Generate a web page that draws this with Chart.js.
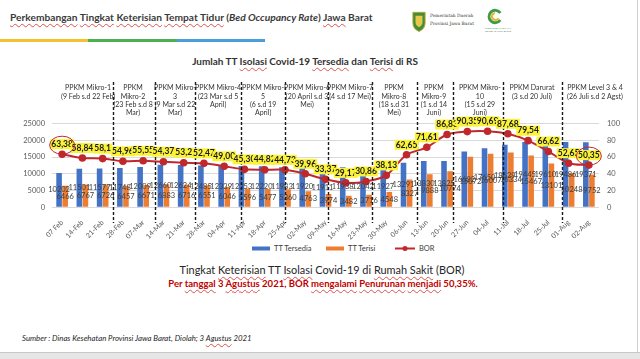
<!DOCTYPE html>
<html lang="id">
<head>
<meta charset="UTF-8">
<title>BOR Jawa Barat</title>
<script src="https://cdn.jsdelivr.net/npm/chart.js@4.4.0/dist/chart.umd.min.js"></script>
<style>
body { margin:0; width:640px; height:359px; position:relative; background:#fff; overflow:hidden;
  font-family: Lato, "Open Sans", sans-serif; color:#404040; }
.t { position:absolute; white-space:nowrap; transform:translateY(-50%); line-height:1.1; }
.c { transform:translate(-50%,-50%); }
.sq { text-decoration: underline wavy #d9534f; text-decoration-thickness: 0.5px; text-underline-offset: 2px; }
#judul { left:10px; top:18px; font-size:11px; font-weight:bold; color:#3a3a3a; }
.strip { position:absolute; top:39px; height:3px; }
#jdlChart { left:305px; top:61px; font-size:9.5px; font-weight:bold; color:#333; }
#bor1 { left:322px; top:270px; font-size:12px; color:#262626; }
#bor2 { left:323px; top:284px; font-size:12px; font-weight:bold; color:#c00000; }
#sumber { left:22px; top:338px; font-size:7px; font-style:italic; color:#262626; }
#grafik { position:absolute; left:0; top:70px; }
.leg { position:absolute; top:248px; font-size:7.5px; color:#404040; transform:translateY(-50%); white-space:nowrap; }
.sw { display:inline-block; width:18px; height:4px; vertical-align:middle; margin-right:4px; }
#bawah { position:absolute; left:0; top:352px; width:640px; height:7px; background:#e6e6e6; border-top:1px solid #c8c8c8; }
#kanan { position:absolute; left:637px; top:0; width:1px; height:352px; background:#d0d0d0; }
</style>
</head>
<body>

<div id="judul" class="t"><span class="sq">Perkembangan</span> <span class="sq">Tingkat</span> <span class="sq">Keterisian</span> <span class="sq">Tempat Tidur</span> (<i>Bed Occupancy Rate</i>) <span class="sq">Jawa</span> Barat</div>
<div class="strip" style="left:0;width:88px;background:#f1c232"></div>
<div class="strip" style="left:88px;width:89px;background:#4caf50"></div>
<div class="strip" style="left:177px;width:88px;background:#4a9fd8"></div>

<!-- logo pemprov -->
<svg style="position:absolute;left:412px;top:9px" width="14" height="25" viewBox="0 0 16 25">
  <path d="M1 2 L15 2 L15 14 Q15 21 8 24 Q1 21 1 14 Z" fill="#3f8f3a" stroke="#c9a227" stroke-width="1"/>
  <path d="M4 6 L12 6 L12 13 Q12 17 8 19 Q4 17 4 13 Z" fill="#e8c84a"/>
</svg>
<div class="t" style="left:430px;top:16px;font-size:4.4px;font-family:'DejaVu Serif',serif;color:#333">Pemerintah Daerah</div>
<div class="t" style="left:430px;top:24px;font-size:4.4px;font-family:'DejaVu Serif',serif;color:#333">Provinsi Jawa Barat</div>
<!-- logo satgas -->
<svg style="position:absolute;left:487px;top:8px" width="16" height="17" viewBox="0 0 18 18">
  <path d="M15 5 A7 7 0 1 0 15 13" fill="none" stroke="#3f9a4a" stroke-width="3.2"/>
  <path d="M9 5 A4 4 0 1 0 13 11" fill="none" stroke="#e8b630" stroke-width="2.4"/>
</svg>
<div class="t" style="left:485px;top:29px;font-size:2.4px;color:#3f7a4a">SATGAS PENANGANAN</div>
<div class="t" style="left:485px;top:32px;font-size:2.4px;color:#3f7a4a">COVID-19 JAWA BARAT</div>

<div id="jdlChart" class="t c">Jumlah TT <span class="sq">Isolasi</span> Covid-19 <span class="sq">Tersedia</span> dan <span class="sq">Terisi</span> di RS</div>

<canvas id="grafik" width="640" height="170"></canvas>

<div class="leg" style="left:252px"><span class="sw" style="background:#4472c4"></span>TT Tersedia</div>
<div class="leg" style="left:326px"><span class="sw" style="background:#ed7d31"></span>TT Terisi</div>
<div class="leg" style="left:395px">
  <svg width="20" height="6" style="vertical-align:middle;margin-right:4px"><line x1="0" y1="3" x2="20" y2="3" stroke="#c0282d" stroke-width="2"/><circle cx="10" cy="3" r="2.5" fill="#c0282d"/></svg>BOR</div>

<div id="bor1" class="t c">Tingkat <span class="sq">Keterisian</span> TT <span class="sq">Isolasi</span> Covid-19 di <span class="sq">Rumah Sakit</span> (BOR)</div>
<div id="bor2" class="t c">Per <span class="sq">tanggal</span> 3 <span class="sq">Agustus</span> 2021, BOR <span class="sq">mengalami</span> <span class="sq">Penurunan</span> <span class="sq">menjadi</span> 50,35%.</div>
<div id="sumber" class="t">Sumber : Dinas Kesehatan Provinsi Jawa Barat, Diolah; 3 <span class="sq">Agustus</span> 2021</div>

<div id="kanan"></div>
<div id="bawah"></div>

<script>
// data mingguan
var minggu = ['07 Feb','14-Feb','21-Feb','28-Feb','07-Mar','14-Mar','21-Mar','28-Mar','04-Apr','11-Apr',
  '18-Apr','25-Apr','02-May','09-May','16-May','23-May','30-May','06-Jun','13-Jun','20-Jun','27-Jun',
  '04-Jul','11-Jul','18-Jul','25-Jul','01-Aug','02-Aug'];
var ttTersedia = [10202, 11501, 11577, 11748, 12009, 12660, 12624, 12485, 12339, 12353, 12220, 11983, 11920,
  11911, 11938, 12042, 11927, 13291, 13830, 13825, 16682, 17650, 18629, 19445, 19610, 19486, 19371];
var ttTerisi = [6466, 6767, 6726, 6457, 6671, 6883, 6716, 6551, 6046, 5596, 5477, 5360, 4763,
  3974, 3482, 3716, 4548, 8327, 9888, 10774, 15072, 16007, 16334, 15467, 13101, 10248, 9752];
var bor = [63.38, 58.84, 58.1, 54.96, 55.55, 54.37, 53.2, 52.47, 49.00, 45.30, 44.82, 44.73, 39.96, 33.37,
  29.17, 30.86, 38.13, 62.65, 71.61, 86.83, 90.35, 90.69, 87.68, 79.54, 66.62, 52.65, 50.35];
var borTeks = ['63,38','58,84','58,1','54,96','55,55','54,37','53,2','52,47','49,00','45,30','44,82','44,73',
  '39,96','33,37','29,17','30,86','38,13','62,65','71,61','86,83','90,35','90,69','87,68','79,54','66,62',
  '52,65','50,35'];

// periode PPKM
var ppkmTeks = [
  ['PPKM Mikro-1', '(9 Feb s.d 22 Feb)'],
  ['PPKM', 'Mikro-2', '(23 Feb s.d 8', 'Mar)'],
  ['PPKM Mikro-', '3', '(9 Mar s.d 22', 'Mar)'],
  ['PPKM Mikro-4', '(23 Mar s.d 5', 'April)'],
  ['PPKM Mikro-', '5', '(6 s.d 19', 'April)'],
  ['PPKM Mikro-6', '(20 April s.d 3', 'Mei)'],
  ['PPKM Mikro-7', '(4 s.d 17 Mei)'],
  ['PPKM', 'Mikro-8', '(18 s.d 31', 'Mei)'],
  ['PPKM', 'Mikro-9', '(1 s.d 14', 'Juni)'],
  ['PPKM Mikro-', '10', '(15 s.d 29', 'Juni)'],
  ['PPKM Darurat', '(3 s.d 20 Juli)'],
  ['PPKM Level 3 & 4', '(26 Juli s.d 2 Agst)']
];
var ppkmTengah = [1.28, 3.5, 5.57, 7.7, 9.92, 12.09, 14.21, 16.38, 18.35, 20.62, 23.19, 26.3];
var ppkmBatas = [2.52, 4.56, 6.56, 8.83, 11.0, 13.12, 15.3, 17.5, 19.3, 21.75, 24.67];

// samakan lebar teks dengan gambar asli
function pasLebar(id, w) {
  var el = document.getElementById(id);
  var fs = parseFloat(getComputedStyle(el).fontSize);
  el.style.fontSize = (fs * w / el.getBoundingClientRect().width) + 'px';
}
pasLebar('judul', 363);
pasLebar('jdlChart', 226);
pasLebar('bor1', 285);
pasLebar('bor2', 310);
pasLebar('sumber', 230);

var hiasan = {
  id: 'hiasan',
  afterDatasetsDraw: function(chart) {
    var ctx = chart.ctx;
    var sx = chart.scales.x;
    ctx.save();

    // label angka batang
    ctx.font = '7.5px Lato';
    ctx.fillStyle = '#404040';
    ctx.textAlign = 'center';
    ctx.textBaseline = 'middle';
    [0, 1].forEach(function(d) {
      chart.getDatasetMeta(d).data.forEach(function(b, i) {
        ctx.fillText(chart.data.datasets[d].data[i], b.x, (b.y + b.base) / 2);
      });
    });

    // garis putus-putus periode
    ctx.setLineDash([3, 2]);
    ctx.strokeStyle = '#1a1a1a';
    ctx.lineWidth = 1.4;
    ppkmBatas.forEach(function(v) {
      var px = Math.round(sx.getPixelForValue(v)) + 0.5;
      ctx.beginPath();
      ctx.moveTo(px, 12);
      ctx.lineTo(px, 153);
      ctx.stroke();
    });
    ctx.setLineDash([]);

    // teks periode
    ctx.font = '7px Lato';
    ctx.fillStyle = '#333';
    ppkmTeks.forEach(function(baris, k) {
      var px = sx.getPixelForValue(ppkmTengah[k]);
      baris.forEach(function(s, j) {
        ctx.fillText(s, px, 18 + j * 8.3);
      });
    });

    // label BOR dengan stabilo kuning
    ctx.font = 'bold 8.5px Lato';
    var meta = chart.getDatasetMeta(2);
    meta.data.forEach(function(p, i) {
      var w = ctx.measureText(borTeks[i]).width;
      ctx.fillStyle = '#fbf33a';
      ctx.fillRect(p.x - w / 2 - 1, p.y - 15, w + 2, 10);
      ctx.fillStyle = '#1a1a1a';
      ctx.fillText(borTeks[i], p.x, p.y - 10);
    });

    // lingkaran merah pertama & terakhir
    ctx.strokeStyle = '#c0282d';
    ctx.lineWidth = 1;
    [0, meta.data.length - 1].forEach(function(i) {
      var p = meta.data[i];
      ctx.beginPath();
      ctx.ellipse(p.x, p.y - 9, 12.5, 9, 0, 0, Math.PI * 2);
      ctx.stroke();
    });
    ctx.restore();
  }
};

new Chart(document.getElementById('grafik'), {
  type: 'bar',
  data: {
    labels: minggu,
    datasets: [
      { label: 'TT Tersedia', data: ttTersedia, backgroundColor: '#4472c4', yAxisID: 'y', order: 2,
        categoryPercentage: 0.6, barPercentage: 0.92 },
      { label: 'TT Terisi', data: ttTerisi, backgroundColor: '#ed7d31', yAxisID: 'y', order: 2,
        categoryPercentage: 0.6, barPercentage: 0.92 },
      { type: 'line', label: 'BOR', data: bor, yAxisID: 'y1', order: 1, borderColor: '#c0282d',
        backgroundColor: '#c0282d', borderWidth: 2, pointRadius: 2.8, tension: 0.3 }
    ]
  },
  options: {
    responsive: false,
    animation: false,
    devicePixelRatio: 1,
    layout: { padding: { top: 53.5, left: 0, right: 0, bottom: 0 } },
    plugins: { legend: { display: false }, tooltip: { enabled: false } },
    scales: {
      x: {
        grid: { display: false },
        border: { display: false },
        ticks: { color: '#595959', font: { family: 'Lato', size: 7 }, minRotation: 45, maxRotation: 45, padding: 3 },
        afterFit: function(s) { s.height = 32.7; }
      },
      y: {
        position: 'left', min: 0, max: 25000,
        grid: { color: '#d9d9d9', drawTicks: false },
        border: { display: false },
        ticks: { stepSize: 5000, color: '#595959', font: { family: 'Lato', size: 7.5 }, padding: 7,
          callback: function(v) { return String(v); } },
        afterFit: function(s) { s.width = 52; }
      },
      y1: {
        position: 'right', min: 0, max: 100,
        grid: { drawOnChartArea: false, drawTicks: false },
        border: { display: false },
        ticks: { stepSize: 20, color: '#595959', font: { family: 'Lato', size: 7.5 }, padding: 8 },
        afterFit: function(s) { s.width = 41; }
      }
    }
  },
  plugins: [hiasan]
});
</script>
</body>
</html>
